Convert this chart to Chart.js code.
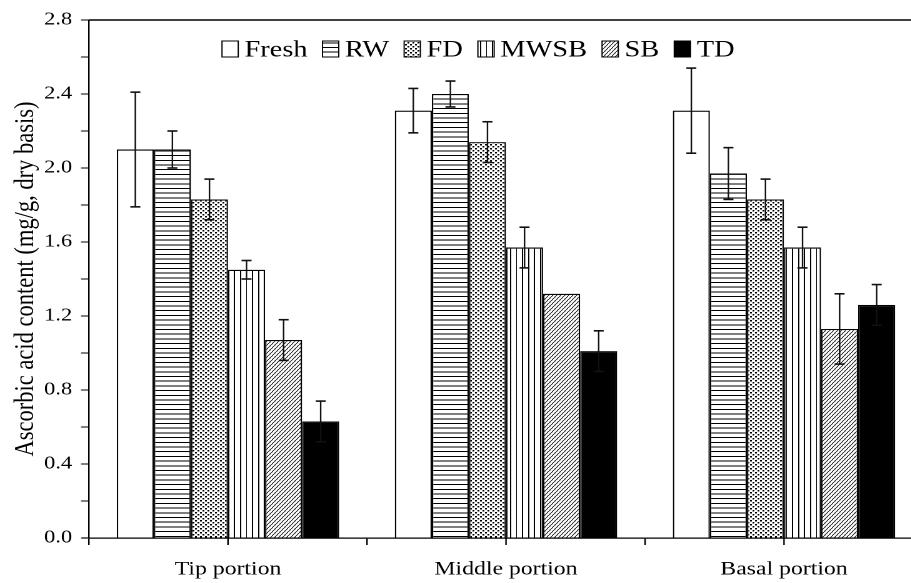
<!DOCTYPE html>
<html>
<head>
<meta charset="utf-8">
<script src="https://cdn.jsdelivr.net/npm/chart.js@4.4.1/dist/chart.umd.min.js"></script>
<style>
  html, body { margin: 0; padding: 0; background: #fff; overflow: hidden; width: 911px; height: 583px; }
  /* the reference figure is stretched horizontally, so draw narrow and widen */
  #wrap { width: 745px; height: 583px; transform: scaleX(1.25); transform-origin: 0 0; }
</style>
</head>
<body>
<div id="wrap"><canvas id="chart" width="745" height="583"></canvas></div>
<script>
const portions = ["Tip portion", "Middle portion", "Basal portion"];
const methods = ["Fresh", "RW", "FD", "MWSB", "SB", "TD"];

// mean values (mg/g, dry basis) per portion
const fresh = [2.10, 2.31, 2.31];
const rw    = [2.10, 2.40, 1.97];
const fd    = [1.83, 2.14, 1.83];
const mwsb  = [1.45, 1.57, 1.57];
const sb    = [1.07, 1.32, 1.13];
const td    = [0.63, 1.01, 1.26];

// error bar half lengths
const freshErr = [0.31, 0.12, 0.23];
const rwErr    = [0.10, 0.07, 0.14];
const fdErr    = [0.11, 0.11, 0.11];
const mwsbErr  = [0.05, 0.11, 0.11];
const sbErr    = [0.11, 0.00, 0.19];
const tdErr    = [0.11, 0.11, 0.11];

const FONT = "'Liberation Serif', 'Times New Roman', serif";

// small tiles for the bar fills
function makePattern(w, h, draw) {
  const r = 10;
  const c = document.createElement("canvas");
  c.width = Math.round(w * r);
  c.height = Math.round(h * r);
  const g = c.getContext("2d");
  g.scale(r, r);
  g.fillStyle = "#fff";
  g.fillRect(0, 0, w, h);
  draw(g, w, h);
  const p = g.createPattern(c, "repeat");
  p.setTransform(new DOMMatrix([1 / r, 0, 0, 1 / r, 0, 0]));
  return p;
}

const fills = [
  "#ffffff",
  makePattern(4, 4.7, g => { g.fillStyle = "#000"; g.fillRect(0, 0, 4, 1); }),
  makePattern(4, 4, g => {
    g.fillStyle = "#000";
    g.fillRect(0, 0, 1.4, 1.4);
    g.fillRect(2, 2, 1.4, 1.4);
  }),
  makePattern(4.8, 4, g => { g.fillStyle = "#000"; g.fillRect(0, 0, 0.9, 4); }),
  makePattern(3.2, 4, (g, w, h) => {
    g.strokeStyle = "#333";
    g.lineWidth = 0.8;
    [-w, 0, w].forEach(x0 => {
      g.beginPath(); g.moveTo(x0, h); g.lineTo(x0 + w, 0); g.stroke();
    });
  }),
  "#000000"
];

const series = [fresh, rw, fd, mwsb, sb, td];
const errs = [freshErr, rwErr, fdErr, mwsbErr, sbErr, tdErr];

const datasets = methods.map((m, i) => ({
  label: m,
  data: series[i],
  errors: errs[i],
  backgroundColor: fills[i],
  borderColor: "#000",
  borderWidth: 1.2,
  barPercentage: 1,
  categoryPercentage: 0.8
}));

// error bars, drawn from the y scale
const errorBars = {
  id: "errorBars",
  afterDatasetsDraw(chart) {
    const { ctx } = chart;
    const y = chart.scales.y;
    ctx.save();
    ctx.strokeStyle = "#111";
    chart.data.datasets.forEach((ds, i) => {
      chart.getDatasetMeta(i).data.forEach((bar, j) => {
        const e = ds.errors[j];
        if (!e) return;
        const v = ds.data[j];
        const top = y.getPixelForValue(v + e);
        const bot = y.getPixelForValue(v - e);
        ctx.lineWidth = 1.2;
        ctx.beginPath(); ctx.moveTo(bar.x, top); ctx.lineTo(bar.x, bot); ctx.stroke();
        ctx.lineWidth = 1.6;
        [top, bot].forEach(py => {
          ctx.beginPath(); ctx.moveTo(bar.x - 4, py); ctx.lineTo(bar.x + 4, py); ctx.stroke();
        });
      });
    });
    ctx.restore();
  }
};

// frame bits, centre ticks and the legend
const extras = {
  id: "extras",
  afterDraw(chart) {
    const { ctx, chartArea: a } = chart;
    const x = chart.scales.x;
    ctx.save();
    ctx.strokeStyle = "#000";
    ctx.lineWidth = 1.6;
    ctx.beginPath(); ctx.moveTo(a.left, a.top); ctx.lineTo(a.right, a.top); ctx.stroke();
    ctx.lineWidth = 1.2;
    ctx.beginPath(); ctx.moveTo(a.left - 5.6, a.bottom); ctx.lineTo(a.left, a.bottom); ctx.stroke();
    portions.forEach((p, i) => {
      const px = x.getPixelForValue(i);
      ctx.beginPath(); ctx.moveTo(px, a.bottom); ctx.lineTo(px, a.bottom + 7); ctx.stroke();
    });

    // legend
    ctx.font = "22.7px " + FONT;
    ctx.textBaseline = "alphabetic";
    let lx = 177.6;
    const boxW = 13, boxTop = 41, boxH = 16;
    chart.data.datasets.forEach(ds => {
      ctx.fillStyle = ds.backgroundColor;
      ctx.fillRect(lx, boxTop, boxW, boxH);
      ctx.lineWidth = 1;
      ctx.strokeStyle = "#000";
      ctx.strokeRect(lx, boxTop, boxW, boxH);
      ctx.fillStyle = "#000";
      ctx.fillText(ds.label, lx + boxW + 5, 56.5);
      lx += boxW + 5 + ctx.measureText(ds.label).width + 12;
    });
    ctx.restore();
  }
};

new Chart(document.getElementById("chart"), {
  type: "bar",
  data: { labels: portions, datasets },
  options: {
    responsive: false,
    devicePixelRatio: 2,
    animation: false,
    events: [],
    layout: { padding: { left: 0, top: 20, right: 6.6, bottom: 0 } },
    plugins: {
      legend: { display: false },
      tooltip: { enabled: false }
    },
    scales: {
      x: {
        afterFit: s => { s.height = 45; },
        grid: { drawOnChartArea: false, offset: true, tickLength: 7, color: "#000", lineWidth: 1.2 },
        border: { color: "#000", width: 1.2 },
        ticks: { color: "#000", padding: 13, font: { family: FONT, size: 19 } }
      },
      y: {
        min: 0,
        max: 2.8,
        afterFit: s => { s.width = 71.2; },
        grid: { drawOnChartArea: false, tickLength: 6.4, color: "#000", lineWidth: 1 },
        border: { color: "#000", width: 1.2 },
        ticks: {
          stepSize: 0.2,
          color: "#000",
          padding: 7,
          font: { family: FONT, size: 18 },
          callback: v => {
            const k = v / 0.4;
            return Math.abs(k - Math.round(k)) < 1e-6 ? v.toFixed(1) : "";
          }
        },
        title: {
          display: true,
          text: "Ascorbic acid content (mg/g, dry basis)",
          color: "#000",
          padding: { top: 7, bottom: 0 },
          font: { family: FONT, size: 22.5 }
        }
      }
    }
  },
  plugins: [errorBars, extras]
});
</script>
</body>
</html>
